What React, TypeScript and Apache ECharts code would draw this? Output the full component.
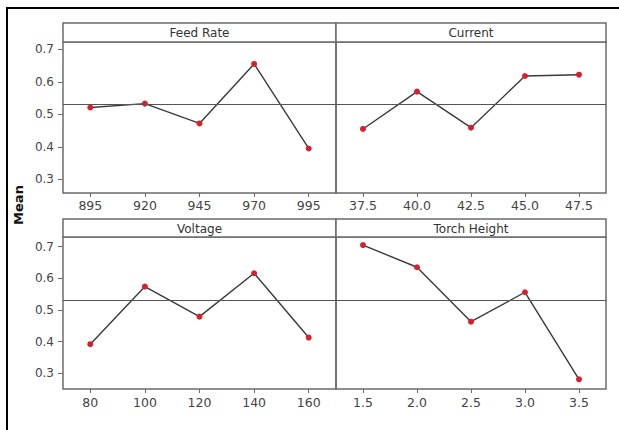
import React, { useEffect, useRef } from "react";
import * as echarts from "echarts";

const feedRateCats = ["895", "920", "945", "970", "995"];
const feedRateMeans = [0.521, 0.533, 0.472, 0.655, 0.395];
const currentCats = ["37.5", "40.0", "42.5", "45.0", "47.5"];
const currentMeans = [0.455, 0.57, 0.459, 0.618, 0.622];
const voltageCats = ["80", "100", "120", "140", "160"];
const voltageMeans = [0.392, 0.574, 0.479, 0.616, 0.413];
const torchCats = ["1.5", "2.0", "2.5", "3.0", "3.5"];
const torchMeans = [0.705, 0.635, 0.463, 0.556, 0.281];
const panelTitles = ["Feed Rate", "Current", "Voltage", "Torch Height"];
const yTicks = [0.3, 0.4, 0.5, 0.6, 0.7];
const grandMean = 0.534;

const FONT = "DejaVu Sans";
const BORDER = "#6b6b6b";

export default function App() {
  const ref = useRef<HTMLDivElement>(null);
  useEffect(() => {
    if (!ref.current) return;
    const chart = echarts.init(ref.current, null, { renderer: "svg" });

    const panels = [
      { cats: feedRateCats, vals: feedRateMeans, left: 63, top: 42, width: 273, height: 151, stripTop: 23, yMin: 0.258, yMax: 0.7226, showY: true, margin: 6 },
      { cats: currentCats, vals: currentMeans, left: 336, top: 42, width: 270, height: 151, stripTop: 23, yMin: 0.258, yMax: 0.7226, showY: false, margin: 6 },
      { cats: voltageCats, vals: voltageMeans, left: 63, top: 237, width: 273, height: 152, stripTop: 219, yMin: 0.2505, yMax: 0.7305, showY: true, margin: 7 },
      { cats: torchCats, vals: torchMeans, left: 336, top: 237, width: 270, height: 152, stripTop: 219, yMin: 0.2505, yMax: 0.7305, showY: false, margin: 7 },
    ];

    const graphic: any[] = [
      {
        type: "rect",
        shape: { x: 7, y: 8, width: 640, height: 440 },
        style: { fill: "none", stroke: "#000", lineWidth: 2 },
        silent: true,
      },
    ];
    panels.forEach((p, i) => {
      graphic.push({
        type: "rect",
        shape: { x: p.left, y: p.stripTop, width: p.width, height: p.top - p.stripTop },
        style: { fill: "#fff", stroke: BORDER, lineWidth: 1.5 },
        silent: true,
      });
      graphic.push({
        type: "text",
        x: p.left + p.width / 2,
        y: (p.stripTop + p.top) / 2 + 0.5,
        style: {
          text: panelTitles[i],
          fontFamily: FONT,
          fontSize: 12,
          fill: "#333",
          align: "center",
          verticalAlign: "middle",
        },
        silent: true,
      });
    });
    graphic.push({
      type: "text",
      x: 18,
      y: 205,
      rotation: Math.PI / 2,
      style: {
        text: "Mean",
        fontFamily: FONT,
        fontSize: 13,
        fontWeight: "bold",
        fill: "#111",
        align: "center",
        verticalAlign: "middle",
      },
      silent: true,
    });

    chart.setOption({
      animation: false,
      backgroundColor: "#fff",
      grid: panels.map((p) => ({
        left: p.left,
        top: p.top,
        width: p.width,
        height: p.height,
        show: true,
        borderColor: BORDER,
        borderWidth: 1.5,
        backgroundColor: "transparent",
        containLabel: false,
      })),
      xAxis: panels.map((p, i) => ({
        type: "category",
        gridIndex: i,
        data: p.cats,
        boundaryGap: true,
        axisLine: { show: false },
        axisTick: { show: true, alignWithLabel: true, length: 4, lineStyle: { color: BORDER, width: 1 } },
        axisLabel: { color: "#444", fontFamily: FONT, fontSize: 12.5, margin: p.margin },
        splitLine: { show: false },
      })),
      yAxis: panels.map((p, i) => ({
        type: "value",
        gridIndex: i,
        min: p.yMin,
        max: p.yMax,
        axisLine: { show: false },
        axisTick: { show: p.showY, customValues: yTicks, length: 5, lineStyle: { color: BORDER, width: 1 } },
        axisLabel: {
          show: p.showY,
          customValues: yTicks,
          color: "#444",
          fontFamily: FONT,
          fontSize: 12,
          margin: 9,
          formatter: (v: number) => v.toFixed(1),
        },
        splitLine: { show: false },
      })),
      series: panels.map((p, i) => ({
        type: "line",
        xAxisIndex: i,
        yAxisIndex: i,
        data: p.vals,
        symbol: "circle",
        symbolSize: 6,
        itemStyle: { color: "#d8202c" },
        lineStyle: { color: "#3a3a3a", width: 1.4 },
        z: 3,
        markLine: {
          silent: true,
          symbol: "none",
          label: { show: false },
          lineStyle: { color: "#555", width: 1.2, type: "solid" },
          data: [{ yAxis: grandMean }],
        },
      })),
      graphic,
    });
    return () => chart.dispose();
  }, []);
  return (
    <div
      ref={ref}
      style={{ position: "fixed", left: 0, top: 0, width: 619, height: 430 }}
    />
  );
}
